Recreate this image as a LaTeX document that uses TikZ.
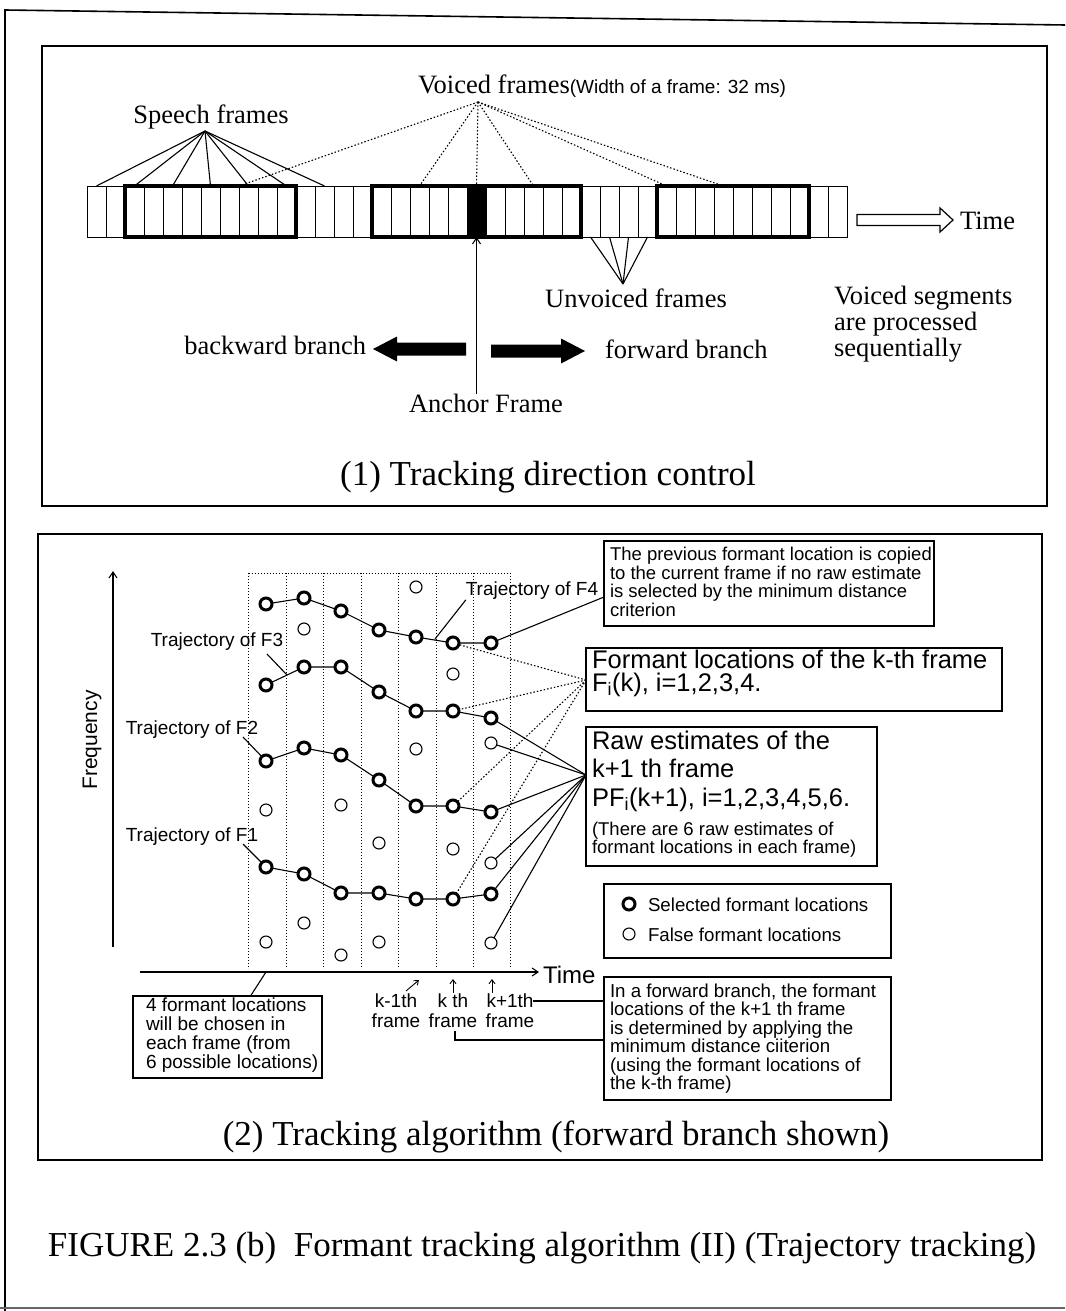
\documentclass[tikz,border=0pt]{standalone}
\usepackage{fontspec}
\setmainfont{Liberation Serif}
\setsansfont{Liberation Sans}
\usetikzlibrary{arrows.meta,fit,calc}
\newcommand{\fsz}[2]{\fontsize{#1}{#2}\selectfont}
\begin{document}
\begin{tikzpicture}[x=1pt,y=-1pt,
  every node/.style={inner sep=0pt,outer sep=0pt},
  panel/.style={draw,line width=1.6pt},
  frm/.style={draw,line width=1pt,minimum width=19,minimum height=51},
  blk/.style={draw,line width=3.2pt},
  lbl/.style={font=\fsz{26.5}{26}},
  ttl/.style={font=\fsz{35}{40}},
  ln/.style={line width=1.1pt},
  dotln/.style={line width=1.1pt,dash pattern=on 1.5pt off 2pt},
  gridln/.style={line width=1pt,dash pattern=on 1.2pt off 1.8pt},
  sel/.style={circle,draw,line width=3pt,fill=white,minimum size=12},
  fls/.style={circle,draw,line width=1.1pt,fill=white,minimum size=12},
  sbox/.style={draw,line width=1.4pt},
  stxt/.style={font=\sffamily\fsz{18.5}{18.6},align=left,anchor=north west},
  tip/.style={-{Straight Barb[length=6pt,width=8pt]}},
]
\useasboundingbox (0,0) rectangle (1065,1311);
% outer page frame
\draw[line width=1.6pt] (1065,25) -- (5,10) -- (5,1311);
\draw[line width=1.2pt,black!60] (0,1308) -- (1065,1308);

% ---------------- panel 1 ----------------
\node[panel,fit={(42,46)(1047,506)}] (p1) {};
\foreach \i in {0,...,39} \node[frm] (f\i) at (96.5+19*\i,211.5) {};
\fill (f20.north west) rectangle (f20.south east);
\node[blk,fit=(f2)(f10)] (v1) {};
\node[blk,fit=(f15)(f25)] (v2) {};
\node[blk,fit=(f30)(f37)] (v3) {};

\node[lbl] (sp) at (211,117) {Speech frames};
\coordinate (spA) at (205,131);
\foreach \k in {0,2,4,6,8,10,12} \draw[ln] (spA) -- (f\k.north);

\node[lbl,anchor=west] (vf) at (418,86) {Voiced frames{\sffamily\fsz{19}{20}(Width of a frame: 32 ms)}};
\coordinate (vfA) at (478,102);
\draw[dotln] (vfA) -- (f7.north east);
\foreach \k in {17,20,23,30,33} \draw[dotln] (vfA) -- (f\k.north);

\node[lbl] (uv) at (636,298) {Unvoiced frames};
\coordinate (uvA) at (623,284);
\foreach \k in {26,...,29} \draw[ln] (uvA) -- (f\k.south);

\node[lbl] (af) at (486,403) {Anchor Frame};
\draw[ln,tip] (af.north -| f20) -- (f20.south);

\fill (466,342.5) -- (397,342.5) -- (397,336.5) -- (373,349) -- (397,361.5) -- (397,355.5) -- (466,355.5) -- cycle;
\fill (491,344.5) -- (561,344.5) -- (561,338.5) -- (585,351) -- (561,363.5) -- (561,357.5) -- (491,357.5) -- cycle;
\node[lbl,anchor=east] (bb) at (366,345) {backward branch};
\node[lbl,anchor=west] (fb) at (605,349) {forward branch};

\draw[line width=1.2pt] (857,214.5) -- (940,214.5) -- (940,208) -- (953,220) -- (940,232) -- (940,225.5) -- (857,225.5) -- cycle;
\node[lbl,anchor=west] (tm1) at (960,221) {Time};

\node[lbl,align=left,anchor=north west] (vs) at (834,286) {Voiced segments\\are processed\\sequentially};

\node[ttl] (t1) at (548,477) {(1) Tracking direction control};

% ---------------- panel 2 ----------------
\node[panel,fit={(38,534)(1042,1160)}] (p2) {};

\coordinate (yb) at (113,947);
\coordinate (yt) at (113,571);
\draw[ln,tip] (yb) -- (yt);
\node[font=\sffamily\fsz{21}{21},rotate=90] (fq) at (92,740) {Frequency};
\coordinate (xo) at (140,972);
\coordinate (xe) at (539,972);
\draw[ln,tip] (xo) -- (xe);
\node[font=\sffamily\fsz{24}{24},anchor=west] (tm2) at (543,975) {Time};

\foreach \x in {248.5,286,323.5,361,398.5,436,473.5,510.5} \draw[gridln] (\x,573) -- (\x,969);
\draw[gridln] (248.5,573) -- (510.5,573);

% false estimates
\foreach \n/\x/\y in {x11/266/810,x12/266/942,x21/304/629,x22/304/923,x31/341/805,x32/341/955,
  x41/379/843,x42/379/942,x51/416/587,x52/416/749,x61/453/674,x62/453/849,
  x71/491/743,x72/491/863,x73/491/943}
  \node[fls] (\n) at (\x,\y) {};
% selected
\foreach \x/\y [count=\c] in {266/604,304/598,341/611,379/630,416/637,453/643,491/643} \node[sel] (a4\c) at (\x,\y) {};
\foreach \x/\y [count=\c] in {266/685,304/667,341/667,379/692,416/711,453/711,491/718} \node[sel] (a3\c) at (\x,\y) {};
\foreach \x/\y [count=\c] in {266/761,304/748,341/755,379/780,416/806,453/806,491/812} \node[sel] (a2\c) at (\x,\y) {};
\foreach \x/\y [count=\c] in {266/867,304/874,341/893,379/893,416/899,453/899,491/894} \node[sel] (a1\c) at (\x,\y) {};
\foreach \r in {1,2,3,4}
  \draw[ln] (a\r1) -- (a\r2) -- (a\r3) -- (a\r4) -- (a\r5) -- (a\r6) -- (a\r7);

% trajectory labels
\node[font=\sffamily\fsz{19}{19}] (tr4) at (532,591) {Trajectory of F4};
\node[font=\sffamily\fsz{19}{19}] (tr3) at (217,642) {Trajectory of F3};
\node[font=\sffamily\fsz{19}{19}] (tr2) at (192,730) {Trajectory of F2};
\node[font=\sffamily\fsz{19}{19}] (tr1) at (192,837) {Trajectory of F1};
\coordinate (p4) at (435,639);
\draw[ln] (tr4.south west) -- (p4);
\coordinate (q3a) at (267,654);
\coordinate (q3b) at (287,675);
\draw[ln] (q3a) -- (q3b);
\draw[ln] (243,737) -- (a21);
\draw[ln] (243,844) -- (a11);

% box A
\node[sbox,fit={(604,541)(934,626)}] (bA) {};
\node[stxt] (tA) at (610,547) {The previous formant location is copied\\to the current frame if no raw estimate\\is selected by the minimum distance\\criterion};
\coordinate (bAp) at (604,597);
\draw[ln] (a47) -- (bAp);

% box B
\node[sbox,fit={(586,648)(1002,711)}] (bB) {};
\node[stxt,font=\sffamily\fsz{25.5}{23}] (tB) at (592,650) {Formant locations of the k-th frame\\F\textsubscript{i}(k), i=1,2,3,4.};
\coordinate (bBp) at (586,680);
\foreach \n in {a46,a36,a26,a16} \draw[dotln] (bBp) -- (\n);

% box C
\node[sbox,fit={(586,727)(877,866)}] (bC) {};
\node[stxt,font=\sffamily\fsz{25.5}{28.5}] (tC1) at (592,731) {Raw estimates of the\\k+1 th frame\\PF\textsubscript{i}(k+1), i=1,2,3,4,5,6.};
\node[stxt,font=\sffamily\fsz{18.5}{18}] (tC2) at (592,822) {(There are 6 raw estimates of\\formant locations in each frame)};
\coordinate (bCp) at (586,775);
\foreach \n in {a37,x71,a27,x72,a17,x73} \draw[ln] (bCp) -- (\n);

% box D legend
\node[sbox,fit={(604,884)(891,958)}] (bD) {};
\node[sel] (lg1) at (629,904) {};
\node[fls] (lg2) at (629,934) {};
\node[font=\sffamily\fsz{18.7}{19},anchor=west] (lt1) at (648,905) {Selected formant locations};
\node[font=\sffamily\fsz{18.7}{19},anchor=west] (lt2) at (648,935) {False formant locations};

% box E
\node[sbox,fit={(133,996)(322,1078)}] (bE) {};
\node[stxt,font=\sffamily\fsz{19}{19}] (tE) at (146,998) {4 formant locations\\will be chosen in\\each frame (from\\6 possible locations)};
\coordinate (bEp) at (250.5,996);
\coordinate (axp) at (266,972);
\draw[ln] (bEp) -- (axp);

% frame labels
\node[font=\sffamily\fsz{19}{20},align=center] (k1) at (396,1011) {k-1th\\frame};
\node[font=\sffamily\fsz{19}{20},align=center] (k2) at (453,1011) {k th\\frame};
\node[font=\sffamily\fsz{19}{20},align=center] (k3) at (510,1011) {k+1th\\frame};
\coordinate (k1a) at (406,991);
\coordinate (k1b) at (419,980);
\coordinate (k2a) at (453,993);
\coordinate (k2b) at (453,979);
\coordinate (k3a) at (492,993);
\coordinate (k3b) at (492,979);
\draw[line width=0.9pt,-{Straight Barb[length=4pt,width=6pt]}] (k1a) -- (k1b);
\draw[line width=0.9pt,-{Straight Barb[length=4pt,width=6pt]}] (k2a) -- (k2b);
\draw[line width=0.9pt,-{Straight Barb[length=4pt,width=6pt]}] (k3a) -- (k3b);

% box F
\node[sbox,fit={(604,977)(891,1100)}] (bF) {};
\node[stxt,font=\sffamily\fsz{18.7}{18.4}] (tF) at (610,984) {In a forward branch, the formant\\locations of the k+1 th frame\\is determined by applying the\\minimum distance ciiterion\\(using the formant locations of\\the k-th frame)};
\coordinate (k3e) at (533,1001);
\coordinate (bFp1) at (604,1001);
\draw[ln] (k3e) -- (bFp1);
\coordinate (bFp2) at (604,1040);
\draw[ln] (455,1031) -- (455,1040) -- (bFp2);

\node[ttl] (t2) at (556,1137) {(2) Tracking algorithm (forward branch shown)};

% caption
\node[font=\fsz{35}{40}] (cap) at (542,1248) {FIGURE 2.3 (b)\ \ Formant tracking algorithm (II) (Trajectory tracking)};
\end{tikzpicture}
\end{document}
